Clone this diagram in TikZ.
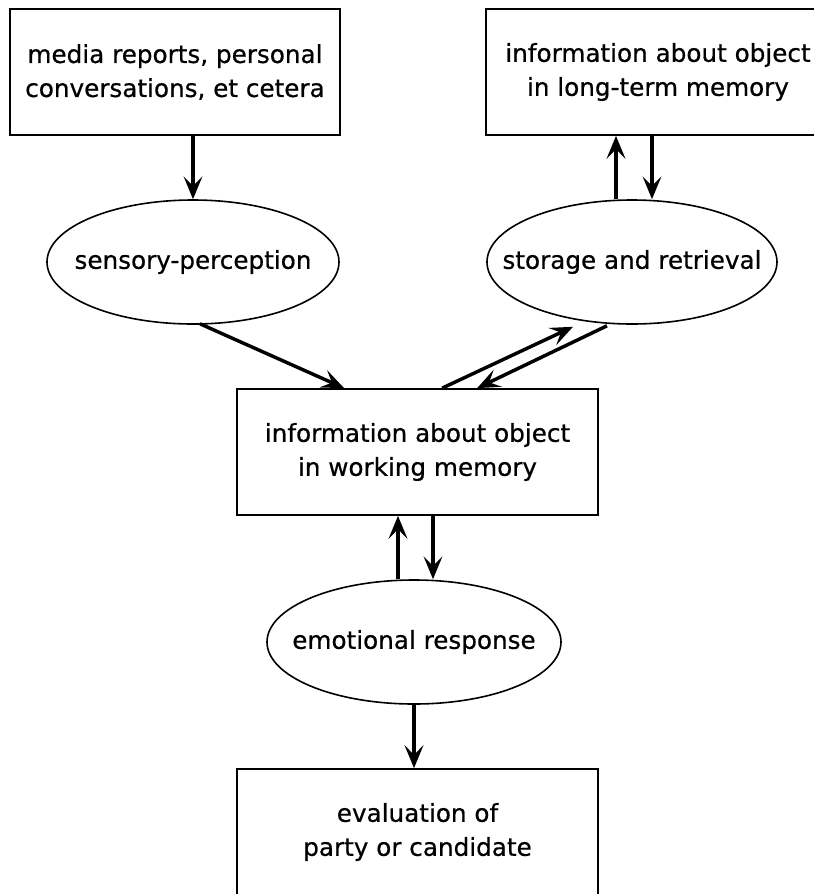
\documentclass[tikz,border=0pt]{standalone}
\usepackage{fontspec}
\setmainfont{DejaVu Sans}[FakeBold=0.6]
\usetikzlibrary{arrows.meta,shapes.geometric,calc}
\begin{document}
\begin{tikzpicture}[x=0.75pt,y=-0.75pt,
 every node/.style={font=\fontsize{18.5}{25.5}\selectfont, inner sep=0pt},
 box/.style={draw, line width=1.3pt, rectangle, align=center, minimum height=94.5pt},
 ell/.style={draw, line width=1.2pt, ellipse, minimum height=93pt},
 arr/.style={line width=2.6pt, -{Stealth[length=17pt,width=14pt,inset=7pt]}}]
\useasboundingbox (0,0) rectangle (814,894);
\node[box, minimum width=247.5pt] (A) at (175,72) {media reports, personal\\conversations, et cetera};
\node[box, minimum width=258pt] (B) at (658,72) {information about object\\in long-term memory};
\node[ell, minimum width=219pt] (S1) at (193,262) {\makebox[0pt]{sensory-perception}};
\node[ell, minimum width=217.5pt] (S2) at (632,262) {\makebox[0pt]{storage and retrieval}};
\node[box, minimum width=270.75pt] (C) at (417.5,452) {information about object\\in working memory};
\node[ell, minimum width=220.5pt] (E) at (414,642) {\makebox[0pt]{emotional response}};
\node[box, minimum width=270.75pt] (D) at (417.5,832) {evaluation of\\party or candidate};
% top arrows
\draw[arr] (S1.north |- A.south) -- (S1.north);
\coordinate (u1) at ($(S2.north)+(-16,0)$);
\coordinate (u2) at ($(S2.north)+(20,0)$);
\draw[arr] (u1) -- (u1 |- B.south);
\draw[arr] (u2 |- B.south) -- (u2);
% diagonal arrows
\coordinate (s1) at ($(S1.south)+(7,-1)$);
\coordinate (c1) at ($(C.north west)+(108,0)$);
\draw[arr] (s1) -- (c1);
\coordinate (c2) at ($(C.north west)+(206,0)$);
\coordinate (s2a) at ($(S2.south)+(-59,2)$);
\draw[arr] (c2) -- (s2a);
\coordinate (s2b) at ($(S2.south)+(-25,1)$);
\coordinate (c3) at ($(C.north west)+(241,0)$);
\draw[arr] (s2b) -- (c3);
% emotional arrows
\coordinate (e1) at ($(E.north)+(-16,0)$);
\coordinate (e2) at ($(E.north)+(19,0)$);
\draw[arr] (e1) -- (e1 |- C.south);
\draw[arr] (e2 |- C.south) -- (e2);
\draw[arr] (E.south) -- (E.south |- D.north);
\end{tikzpicture}
\end{document}
